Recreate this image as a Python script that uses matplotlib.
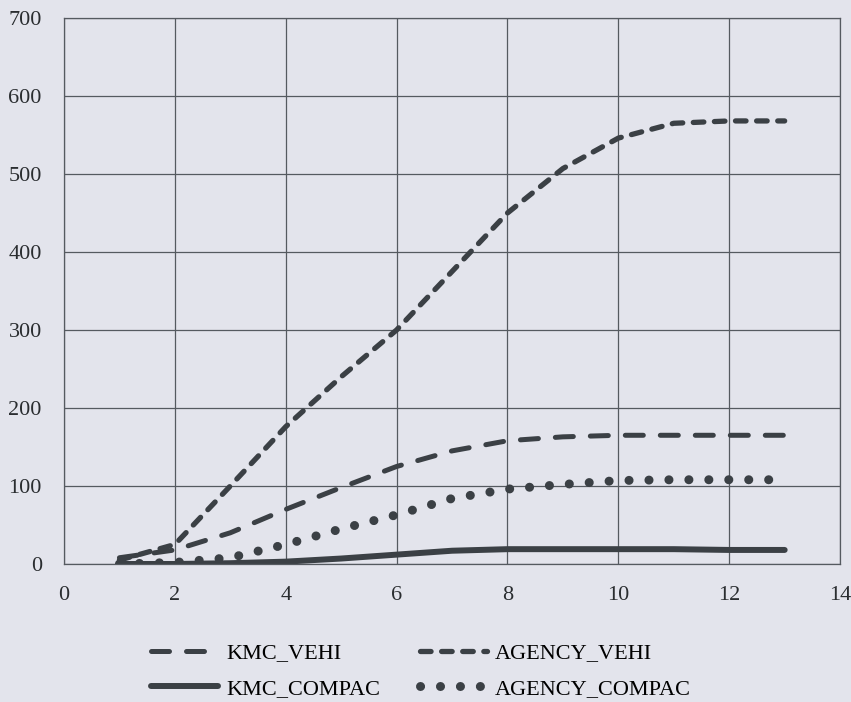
import numpy as np
import matplotlib
matplotlib.use("Agg")
import matplotlib.pyplot as plt

plt.rcParams['font.family'] = ['Liberation Serif', 'DejaVu Serif']

# values
x = [1, 2, 3, 4, 5, 6, 7, 8, 9, 10, 11, 12, 13]
kmc_vehi = [8, 18, 40, 70, 98, 125, 145, 158, 163, 165, 165, 165, 165]
agency_vehi = [5, 25, 100, 176, 240, 300, 375, 450, 507, 546, 565, 568, 568]
kmc_compac = [0, 0, 1, 3, 7, 12, 17, 19, 19, 19, 19, 18, 18]
agency_compac = [0, 2, 8, 25, 45, 63, 84, 96, 102, 107, 108, 108, 108]

paper = '#e3e4ec'
ink = '#3b4045'

fig = plt.figure(figsize=(8.51, 7.02), dpi=100, facecolor=paper)
ax = fig.add_axes([0.0752, 0.1966, 0.912, 0.7778])
ax.set_facecolor(paper)

l1, = ax.plot(x, kmc_vehi, color=ink, lw=3.6, linestyle=(0, (3.6, 3.4)),
              dash_capstyle='round', label='KMC_VEHI')
l2, = ax.plot(x, agency_vehi, color=ink, lw=3.8, linestyle=(0, (2.0, 2.0)),
              dash_capstyle='round', label='AGENCY_VEHI')
l3, = ax.plot(x, kmc_compac, color=ink, lw=4.3, solid_capstyle='round',
              label='KMC_COMPAC')
l4, = ax.plot(x, agency_compac, color=ink, lw=6.5, linestyle=(0, (0.01, 2.2)),
              dash_capstyle='round', label='AGENCY_COMPAC')

ax.set_xlim(0, 14)
ax.set_ylim(0, 700)
ax.set_xticks(np.arange(0, 15, 2))
ax.set_yticks(np.arange(0, 701, 100))
ax.grid(True, color='#555a60', lw=0.9)
ax.tick_params(length=0, labelsize=16, colors='#2a2d30')
ax.tick_params(axis='x', pad=16)
ax.tick_params(axis='y', pad=16)
for s in ax.spines.values():
    s.set_color('#555a60')
    s.set_linewidth(0.9)

fig.legend(handles=[l1, l3, l2, l4], ncol=2, frameon=False, fontsize=16,
           loc='upper left', bbox_to_anchor=(0.178, 0.084), handlelength=3.0,
           handletextpad=0.35, columnspacing=1.8, labelspacing=0.67,
           borderaxespad=0, borderpad=0)

fig.savefig('out.png', dpi=100, facecolor=paper)
